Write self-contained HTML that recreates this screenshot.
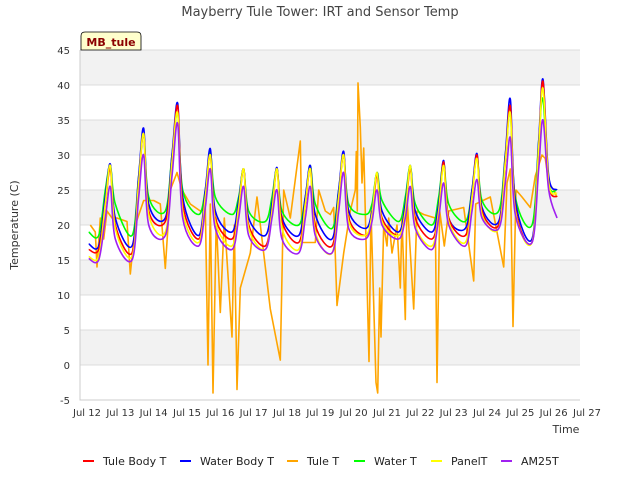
<!DOCTYPE html>
<html><head><meta charset="utf-8"><style>
body{margin:0;background:#fff;}
svg{font-family:"DejaVu Sans","Liberation Sans",sans-serif;}
</style></head><body>
<svg id="chart" width="640" height="480" xmlns="http://www.w3.org/2000/svg">
<g id="grid"></g>
<g id="series"></g>
<g id="axes"></g>
<text x="320" y="16" text-anchor="middle" font-size="13" fill="#444">Mayberry Tule Tower: IRT and Sensor Temp</text>
<text x="18" y="225" text-anchor="middle" font-size="11" fill="#333" transform="rotate(-90 18 225)">Temperature (C)</text>
<text x="566" y="433" text-anchor="middle" font-size="11" fill="#333">Time</text>
<g>
<path d="M81,50 L81,36 Q81,32 85,32 L137,32 Q141,32 141,36 L141,50 Z" fill="#ffffcc" stroke="#000" stroke-width="0.8"/>
<text x="111" y="46" text-anchor="middle" font-size="11" font-weight="bold" fill="#8b0000">MB_tule</text>
</g>
<g id="legend"></g>
</svg>
<script>
const T = [12.05,12.35,12.55,12.7,12.85,13.35,13.55,13.7,13.85,14.35,14.55,14.72,14.87,15.35,15.55,15.7,15.85,16.35,16.55,16.7,16.85,17.35,17.55,17.7,17.85,18.35,18.55,18.7,18.85,19.35,19.55,19.7,19.85,20.35,20.55,20.7,20.85,21.35,21.55,21.7,21.85,22.35,22.55,22.7,22.85,23.35,23.55,23.7,23.85,24.35,24.55,24.7,24.85,25.35,25.55,25.68,25.85,26.1];
const tuleBody = [16.5,16.5,23,28,20,16,26,33,22,20.5,29,37,23,18,24,30,21,18,22.5,28,20,17,22,28,20.5,17.5,23,28,20,17,24,30,21,18.5,21,27,21,18.5,22,28,21,18,22,29,21,18.5,24,30,22,20,29,37,22.5,17.5,31,40.5,26,24];
const waterBody = [17.3,17,24,28.7,21,17,27,33.8,23,21,30,37.4,24,18.5,25,30.9,22,19,23.5,28,21,18.5,23,28.2,21,18.5,24,28.5,21.5,18,25,30.5,22,19.5,22,27.5,22,19,23,28.5,22,19,23,29.2,21,19.5,25,30.2,22.5,20.5,30,38,23.5,18,32,40.8,27,25];
const waterT = [19,18.5,25,28.5,23,18.5,27,33,24,22,30,36,25,21.5,25,30.5,24,21.5,24,28,22,20.5,24,28,22,20,24,28.5,23,19.5,25,30,23,21.5,23,27.5,23.5,20.5,24,28.5,23,20,24,29,23,20.5,25,30,23.5,22,30,36,24,20,32,38,26,25];
const panelT = [15.5,15.5,23,28.5,19.5,15.5,26,33,21.5,19,29,36,22,17.5,24,30,20.5,17,22.5,28,19.5,16.5,22,28,19.5,16.5,23,28,19,16,24,30,20.5,18.5,21.5,27.5,20.5,18.5,22,28.5,20,17,22,28.5,20.5,17.5,24,29.5,21.5,19.5,29,36,22,17.5,31,39.5,26,24.5];
const am25t = [15.2,15,21,25.5,18,15,24,30,20,18.5,27,34.5,21,17,22.5,28,19.5,16.5,21,25.5,18.5,16.5,21,25,18,16,21,25.5,18.5,16,22,27.5,19.5,18,20.5,25,20,18,21,25.5,19.5,16.5,21,26,20,17,22,26.5,21,19.5,26,32.5,21.5,17.5,28,35,25,21];
const tuleTimes = [12.1,12.25,12.3,12.4,12.5,12.6,12.75,12.9,13.2,13.3,13.45,13.7,14.0,14.2,14.35,14.5,14.7,14.85,15.1,15.4,15.55,15.63,15.7,15.78,15.88,16.0,16.12,16.35,16.42,16.5,16.6,16.9,17.1,17.5,17.8,17.9,18.1,18.4,18.45,18.85,18.95,19.15,19.3,19.4,19.5,19.7,19.9,20.05,20.08,20.11,20.13,20.2,20.25,20.3,20.46,20.52,20.67,20.72,20.78,20.82,20.9,21.0,21.05,21.15,21.3,21.4,21.45,21.55,21.6,21.8,21.9,22.1,22.45,22.5,22.58,22.72,22.85,23.3,23.6,23.66,24.1,24.5,24.6,24.7,24.78,24.87,25.05,25.3,25.45,25.65,25.75,25.85,26.0,26.1];
const tuleT = [20,19,14,21,18,22,21,21,20.5,13,20,23.5,23.5,23,13.8,25,27.5,25,23,22,22.5,0,23,-4,21,7.5,21,4,20,-3.5,11,16,24,8,0.7,25,21,32,17.5,17.5,25,22,21.5,22.5,8.5,16,22,25,30.5,22,40.3,34,26,31,0.5,22,-2.5,-4,11,4,20,17,21,16,20,11,21,6.5,24,8,22,21.5,21,-2.5,22,17,22,22.5,12,23,24,14,26,28,5.5,25,24,22.5,27,30,29.5,26,25,24];

const X0=87, DX=33.333, Y0=365, DY=7;
const xs = d => X0 + (d-12)*DX;
const ys = v => Y0 - v*DY;
const NS="http://www.w3.org/2000/svg";
const mk=(tag,attrs,parent)=>{const e=document.createElementNS(NS,tag);for(const k in attrs)e.setAttribute(k,attrs[k]);parent.appendChild(e);return e;};
const grid=document.getElementById('grid');
const gb=[40,30,20,10,0];
gb.forEach(v=>{const r=mk('rect',{x:80,y:ys(v+5),width:500,height:5*DY,fill:'#f2f2f2'},grid);

});
const yTicks=[-5,0,5,10,15,20,25,30,35,40,45];
const axes=document.getElementById('axes');
yTicks.forEach(v=>{const l=mk('line',{x1:80,x2:580,y1:ys(v),y2:ys(v),stroke:'#dcdcdc','stroke-width':1},grid);


const t=mk('text',{x:70,y:ys(v)+4,'text-anchor':'end','font-size':10,fill:'#333'},axes);t.textContent=String(v);

});
const xTicks=['Jul 12','Jul 13','Jul 14','Jul 15','Jul 16','Jul 17','Jul 18','Jul 19','Jul 20','Jul 21','Jul 22','Jul 23','Jul 24','Jul 25','Jul 26','Jul 27'];
xTicks.forEach((s,i)=>{const t=mk('text',{x:xs(12+i),y:416,'text-anchor':'middle','font-size':10,fill:'#333'},axes);t.textContent=s;

});
const ax=mk('path',{d:'M80,50 L80,400 L580,400',fill:'none',stroke:'#ccc','stroke-width':1},axes);


function smoothPath(pts){
  let d='M'+pts[0][0].toFixed(1)+','+pts[0][1].toFixed(1);
  for(let i=0;i<pts.length-1;i++){
    const p0=pts[Math.max(0,i-1)],p1=pts[i],p2=pts[i+1],p3=pts[Math.min(pts.length-1,i+2)];
    const c1=[p1[0]+(p2[0]-p0[0])/6,p1[1]+(p2[1]-p0[1])/6];
    const c2=[p2[0]-(p3[0]-p1[0])/6,p2[1]-(p3[1]-p1[1])/6];
    d+=' C'+c1[0].toFixed(1)+','+c1[1].toFixed(1)+' '+c2[0].toFixed(1)+','+c2[1].toFixed(1)+' '+p2[0].toFixed(1)+','+p2[1].toFixed(1);
  }
  return d;
}
const series=document.getElementById('series');
const list=[['tule-t',tuleTimes,tuleT,'#ffa500',false],['water-t',T,waterT,'#00ff00',true],['water-body-t',T,waterBody,'#0000ff',true],['tule-body-t',T,tuleBody,'#ff0000',true],['panel-t',T,panelT,'#ffff00',true],['am25t',T,am25t,'#a020f0',true]];
list.forEach(([n,tt,vv,c,sm])=>{
  const pts=tt.map((d,i)=>[xs(d),ys(vv[i])]);
  const d=sm?smoothPath(pts):'M'+pts.map(p=>p[0].toFixed(1)+','+p[1].toFixed(1)).join(' L');
  const p=mk('path',{d:d,fill:'none',stroke:c,'stroke-width':1.6,'stroke-linejoin':'round'},series);

});
const leg=document.getElementById('legend');
const legItems=[['Tule Body T','#ff0000',83],['Water Body T','#0000ff',180],['Tule T','#ffa500',287],['Water T','#00ff00',354],['PanelT','#ffff00',431],['AM25T','#a020f0',501]];
legItems.forEach(([s,c,x])=>{const g=mk('g',{},leg);


mk('line',{x1:x,x2:x+11,y1:461,y2:461,stroke:c,'stroke-width':2},g);
const t=mk('text',{x:x+20,y:465,'font-size':11,fill:'#222'},g);t.textContent=s;});
</script>
</body></html>
